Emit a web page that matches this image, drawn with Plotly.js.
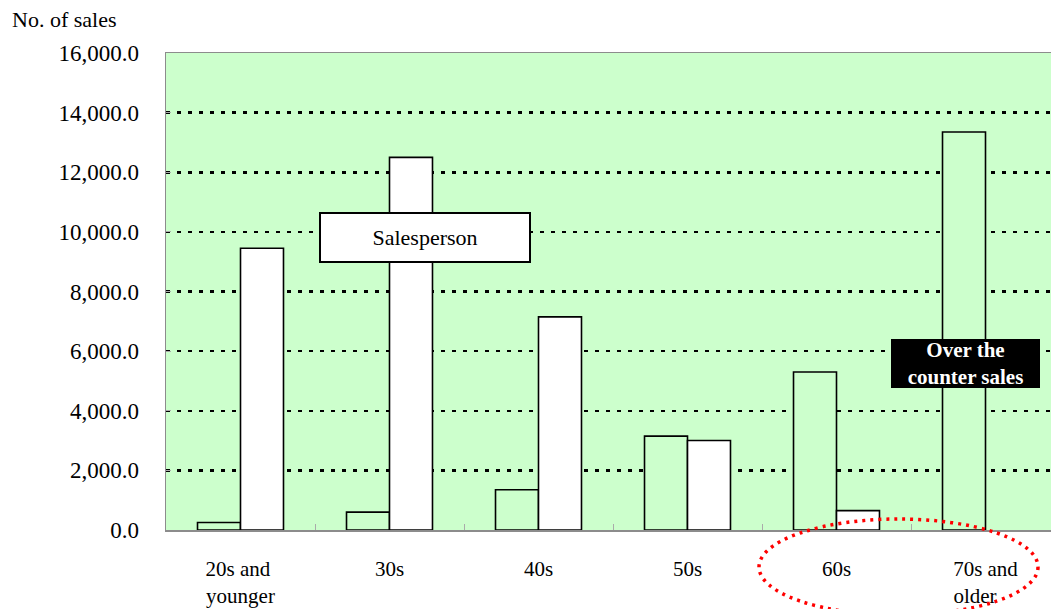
<!DOCTYPE html>
<html>
<head>
<meta charset="utf-8">
<script src="https://cdn.plot.ly/plotly-3.0.1.min.js"></script>
<style>html,body{margin:0;padding:0;background:#fff;overflow:hidden;width:1051px;height:609px;}#chart{width:1060px;height:609px;}</style>
</head>
<body>
<div id="chart"></div>
<script>
var categories = ["20s and\u00a0<br>younger", "30s", "40s", "50s", "60s", "70s and<br>older\u00a0\u00a0\u00a0\u00a0"];
var overTheCounter = [250, 600, 1350, 3150, 5300, 13350];
var salesperson = [9450, 12500, 7150, 3000, 650, 0];
var yTitle = "No. of sales";
var labelSalesperson = "Salesperson";
var labelOTC = "Over the<br>counter sales";

var L = 166, T = 53, W = 1060, H = 609, B = 79, R = 0;
var pw = W - L - R, ph = H - T - B;
function px(x) { return (x - L) / pw; }
function py(y) { return (H - B - y) / ph; }

var lineW = salesperson.map(function (v) { return v === 0 ? 0 : 1.6; });

var traces = [
  {type: "bar", name: "Over the counter sales", x: categories, y: overTheCounter,
   marker: {color: "#ccffcc", line: {color: "#000", width: 1.6}}, hoverinfo: "y"},
  {type: "bar", name: "Salesperson", x: categories, y: salesperson,
   marker: {color: "#ffffff", line: {color: "#000", width: lineW}}, hoverinfo: "y"}
];

var layout = {
  width: W, height: H,
  margin: {l: L, r: R, t: T, b: B, pad: 0},
  paper_bgcolor: "#ffffff",
  plot_bgcolor: "#ccffcc",
  barmode: "group",
  bargap: 0.423,
  bargroupgap: 0,
  showlegend: false,
  font: {family: "Liberation Serif, Times New Roman, serif", color: "#000"},
  title: {text: yTitle, font: {size: 22, family: "Liberation Serif"}, x: 12 / W, xanchor: "left", xref: "container", y: 1 - 19 / H, yanchor: "middle", yref: "container"},
  xaxis: {
    type: "category",
    showline: true, linecolor: "#8c8c8c", linewidth: 1.5, mirror: true,
    ticks: "inside", ticklen: 6, tickcolor: "#aaaaaa", tickwidth: 1, tickson: "boundaries",
    showgrid: false, zeroline: false,
    tickfont: {size: 21, family: "Liberation Serif"},
    ticklabelstandoff: 19,
    fixedrange: true
  },
  yaxis: {
    range: [0, 16000], dtick: 2000, tick0: 0,
    tickformat: ",.1f",
    showline: true, linecolor: "#8c8c8c", linewidth: 1.5, mirror: true,
    ticks: "inside", ticklen: 5, tickcolor: "#aaaaaa",
    showgrid: true, gridcolor: "#000", gridwidth: 2.5, griddash: "4px,7px",
    zeroline: false,
    tickfont: {size: 23, family: "Liberation Serif"},
    ticklabelstandoff: 21,
    fixedrange: true
  },
  annotations: [
    {xref: "paper", yref: "paper", x: px(425), y: py(237.5), xanchor: "center", yanchor: "middle",
     text: labelSalesperson, showarrow: false, font: {size: 22, family: "Liberation Serif", color: "#000"},
     bgcolor: "#ffffff", bordercolor: "#000", borderwidth: 2, borderpad: 0, width: 208, height: 47},
    {xref: "paper", yref: "paper", x: px(965.5), y: py(363.5), xanchor: "center", yanchor: "middle",
     text: "<b>" + labelOTC + "</b>", showarrow: false, font: {size: 21, family: "Liberation Serif", color: "#fff"},
     bgcolor: "#000000", bordercolor: "#000", borderwidth: 1, borderpad: 0, width: 147, height: 47}
  ],
  shapes: [
    {type: "circle", xref: "paper", yref: "paper", x0: px(759), x1: px(1038), y0: py(615), y1: py(519),
     line: {color: "#ff0000", width: 3.5, dash: "3px,5px"}, layer: "above"}
  ]
};

Plotly.newPlot("chart", traces, layout, {displayModeBar: false, staticPlot: true});
</script>
</body>
</html>
